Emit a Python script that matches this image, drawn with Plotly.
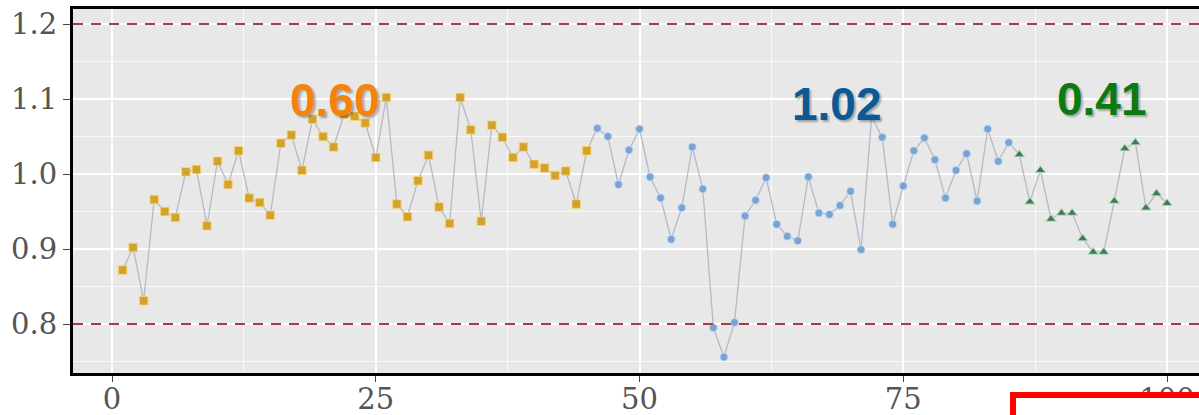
import plotly.graph_objects as go

# ---- data ----
x_orange = list(range(1, 46))
y_orange = [0.872, 0.902, 0.831, 0.966, 0.950, 0.942, 1.003, 1.006, 0.931, 1.017,
            0.986, 1.031, 0.968, 0.962, 0.945, 1.041, 1.052, 1.005, 1.073, 1.050,
            1.036, 1.080, 1.077, 1.068, 1.022, 1.102, 0.960, 0.943, 0.991, 1.025,
            0.956, 0.934, 1.102, 1.059, 0.937, 1.065, 1.049, 1.022, 1.036, 1.013,
            1.008, 0.998, 1.004, 0.960, 1.031]
x_blue = list(range(46, 86))
y_blue = [1.061, 1.050, 0.986, 1.032, 1.060, 0.996, 0.968, 0.913, 0.955, 1.036,
          0.980, 0.795, 0.756, 0.802, 0.944, 0.965, 0.995, 0.933, 0.917, 0.911,
          0.996, 0.948, 0.946, 0.958, 0.977, 0.899, 1.076, 1.049, 0.933, 0.984,
          1.031, 1.048, 1.019, 0.968, 1.005, 1.027, 0.964, 1.060, 1.017, 1.042]
x_green = list(range(86, 101))
y_green = [1.026, 0.963, 1.005, 0.940, 0.948, 0.948, 0.914, 0.896, 0.896, 0.964,
           1.034, 1.042, 0.955, 0.974, 0.961]

limit_levels = [0.8, 1.2]
phase_labels = ["0.60", "1.02", "0.41"]
x_ticks = [0, 25, 50, 75, 100]
y_ticks = [0.8, 0.9, 1.0, 1.1, 1.2]

x_all = x_orange + x_blue + x_green
y_all = y_orange + y_blue + y_green

fig = go.Figure()

# connecting line
fig.add_trace(go.Scatter(x=x_all, y=y_all, mode="lines",
                         line=dict(color="rgba(175,175,192,0.85)", width=1.3),
                         hoverinfo="skip", showlegend=False))

fig.add_trace(go.Scatter(x=x_orange, y=y_orange, mode="markers",
                         marker=dict(symbol="square", size=8.5, color="#D2A22E",
                                     line=dict(color="rgba(255,215,110,0.7)", width=1.2)),
                         showlegend=False))
fig.add_trace(go.Scatter(x=x_blue, y=y_blue, mode="markers",
                         marker=dict(symbol="circle", size=8, color="#7BA3D2",
                                     line=dict(color="rgba(200,225,250,0.8)", width=1.2)),
                         showlegend=False))
fig.add_trace(go.Scatter(x=x_green, y=y_green, mode="markers",
                         marker=dict(symbol="triangle-up", size=9.5, color="#3F7B55",
                                     line=dict(color="rgba(200,230,205,0.8)", width=1.2)),
                         showlegend=False))

# dashed limit lines
for lv in limit_levels:
    fig.add_shape(type="line", xref="paper", yref="y", x0=0, x1=1, y0=lv, y1=lv,
                  line=dict(color="rgb(165,60,72)", width=1.8, dash="10px,8px"),
                  layer="above")

# phase labels
label_fonts = [("#F5820A", 21.1, 1.099), ("#0B5A96", 68.7, 1.094), ("#0A7A12", 93.8, 1.100)]
for txt, (col, lx, ly) in zip(phase_labels, label_fonts):
    fig.add_annotation(x=lx, y=ly, xref="x", yref="y", text=f"<b>{txt}</b>",
                       showarrow=False, xanchor="center", yanchor="middle",
                       font=dict(family="Liberation Sans, Arial", size=46, color=col,
                                 shadow="2px 2px 2px rgba(0,0,0,0.3)"))

# red box at lower right (extends past the figure edge)
fig.add_shape(type="rect", xref="paper", yref="paper",
              x0=0.8348, x1=1.2, y0=-22 / 364, y1=-0.5,
              line=dict(color="#FF0000", width=6), fillcolor="white", layer="above")

tick_font = dict(family="DejaVu Serif, Liberation Serif, serif", size=29, color="#555555")

fig.update_xaxes(range=[-3.70, 103.03], tickvals=x_ticks, ticks="outside", ticklen=6,
                 tickwidth=1.2, tickcolor="#444444", tickfont=tick_font,
                 ticklabelstandoff=-8,
                 showgrid=True, gridcolor="white", gridwidth=2,
                 minor=dict(dtick=12.5, tick0=0, showgrid=True,
                            gridcolor="rgba(255,255,255,0.75)", gridwidth=1),
                 showline=True, linecolor="black", linewidth=3, mirror=True,
                 zeroline=False, automargin=False)
fig.update_yaxes(range=[0.7347, 1.22], tickvals=y_ticks, tickformat=".1f",
                 ticks="outside", ticklen=7, tickwidth=1.2, tickcolor="#444444",
                 tickfont=tick_font,
                 showgrid=True, gridcolor="white", gridwidth=2,
                 minor=dict(dtick=0.05, tick0=0, showgrid=True,
                            gridcolor="rgba(255,255,255,0.75)", gridwidth=1),
                 showline=True, linecolor="black", linewidth=3, mirror=False,
                 zeroline=False, automargin=False)

fig.update_layout(width=1199, height=415,
                  margin=dict(l=73, r=0, t=9, b=42),
                  plot_bgcolor="#E8E8E8", paper_bgcolor="white",
                  showlegend=False)

# remove the page's default body margin so the figure fills the window exactly
fig.write_html("out.html", config={"displayModeBar": False},
               post_script="document.body.style.margin='0';document.body.style.overflow='hidden';")
